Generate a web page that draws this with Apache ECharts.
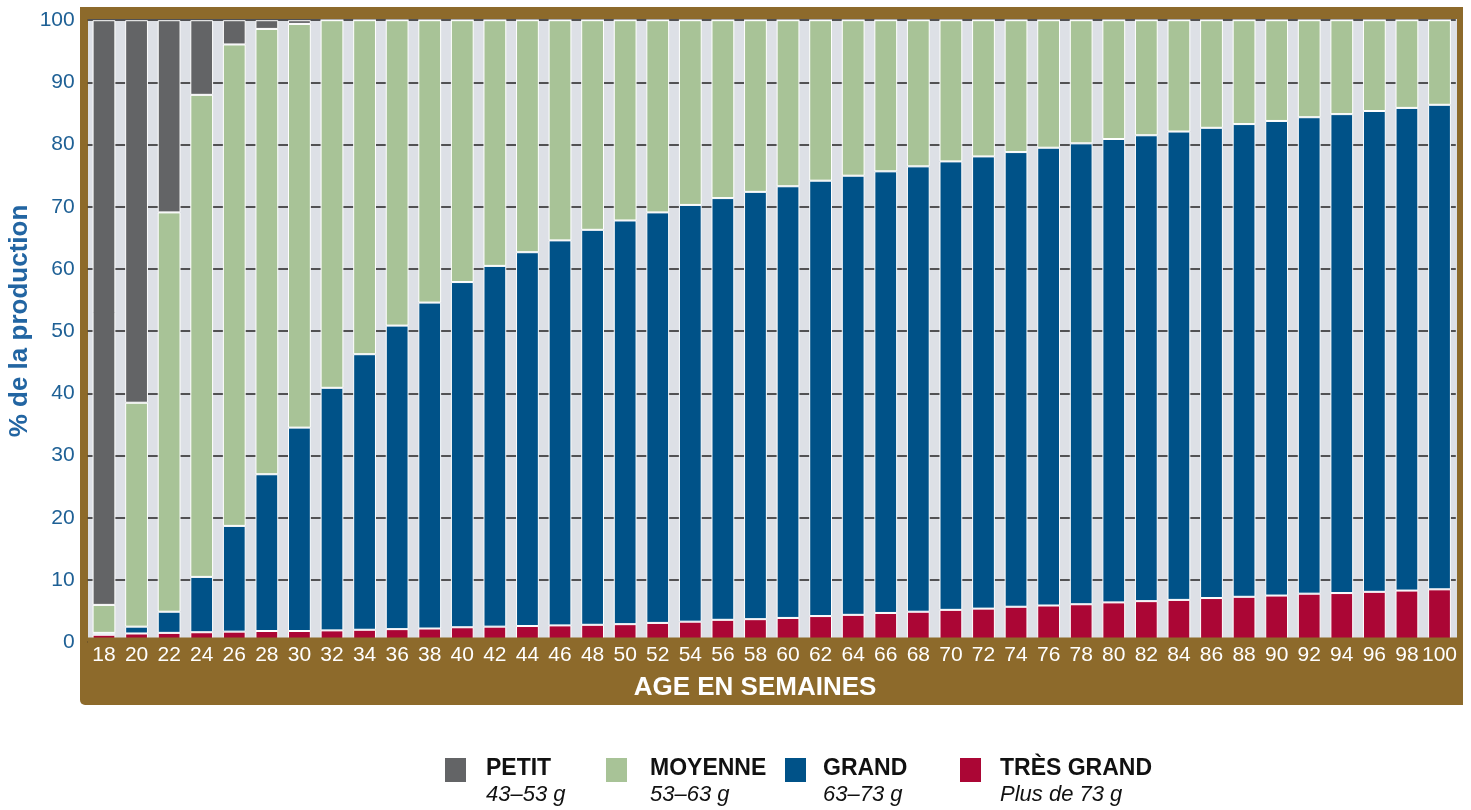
<!DOCTYPE html>
<html>
<head>
<meta charset="utf-8">
<script src="https://cdn.jsdelivr.net/npm/echarts@6/dist/echarts.min.js"></script>
<style>
html,body{margin:0;padding:0;background:#fff;}
#chart{width:1471px;height:810px;}
</style>
</head>
<body>
<div id="chart"></div>
<script>
// Age in weeks (categories)
const weeks = ['18','20','22','24','26','28','30','32','34','36','38','40','42','44','46','48','50','52','54','56','58','60','62','64','66','68','70','72','74','76','78','80','82','84','86','88','90','92','94','96','98','100'];

// % of production per egg size class (segment values, bottom to top: tresGrand, grand, moyenne, petit)
const tresGrand = [1.2,1.4,1.5,1.6,1.7,1.8,1.8,1.9,2.0,2.1,2.2,2.4,2.5,2.6,2.7,2.8,2.9,3.1,3.3,3.6,3.7,3.9,4.2,4.4,4.7,4.9,5.2,5.4,5.7,5.9,6.1,6.4,6.6,6.8,7.1,7.3,7.5,7.8,7.9,8.1,8.3,8.5];
const grand     = [0.3,1.1,3.4,8.9,17.0,25.2,32.7,39.0,44.3,48.8,52.4,55.5,58.0,60.1,61.9,63.5,64.9,66.0,67.0,67.8,68.7,69.4,70.0,70.6,71.0,71.6,72.1,72.7,73.1,73.6,74.1,74.5,74.9,75.3,75.6,76.0,76.3,76.6,77.0,77.3,77.6,77.9];
const moyenne   = [4.5,36.0,64.2,77.5,77.4,71.6,64.9,59.1,53.7,49.1,45.4,42.1,39.5,37.3,35.4,33.7,32.2,30.9,29.7,28.6,27.6,26.7,25.8,25.0,24.3,23.5,22.7,21.9,21.2,20.5,19.8,19.1,18.5,17.9,17.3,16.7,16.2,15.6,15.1,14.6,14.1,13.6];
const petit     = [94.0,61.5,30.9,12.0,3.9,1.4,0.6,0,0,0,0,0,0,0,0,0,0,0,0,0,0,0,0,0,0,0,0,0,0,0,0,0,0,0,0,0,0,0,0,0,0,0];

// Legend texts
const classNames = ['PETIT','MOYENNE','GRAND','TRÈS GRAND'];
const classRanges = ['43–53 g','53–63 g','63–73 g','Plus de 73 g'];

const yTitle = '% de la production';
const xTitle = 'AGE EN SEMAINES';

const COLORS = {petit:'#636466', moyenne:'#a8c397', grand:'#005288', tresGrand:'#ab0635'};
const BROWN = '#8d6a2b';
const NARROW = '"Liberation Sans Narrow","Arial Narrow",sans-serif';
const SANS = '"Liberation Sans",Arial,sans-serif';

const chart = echarts.init(document.getElementById('chart'), null, {renderer:'canvas'});

function mkSeries(name, data, color){
  return {
    name: name, type:'bar', stack:'total', data: data,
    barCategoryGap:'30%', z:2,
    itemStyle:{color:color, borderColor:'#ffffff', borderWidth:1},
    emphasis:{disabled:true}
  };
}

const legendLefts = [443, 604, 783, 958];
const legendGaps = [14, 17, 11, 13];
const legends = classNames.map((n,i)=>({
  data:[n], left:legendLefts[i], top:756, padding:0,
  orient:'horizontal', selectedMode:false,
  itemWidth:23, itemHeight:26, icon:'rect',
  formatter: function(name){ return '{b|'+name+'}\n{i|'+classRanges[classNames.indexOf(name)]+'}'; },
  textStyle:{
    padding:[24,0,0,legendGaps[i]],
    rich:{
      b:{fontFamily:SANS, fontWeight:'bold', fontSize:23, color:'#111', lineHeight:26},
      i:{fontFamily:SANS, fontStyle:'italic', fontSize:22, color:'#111', lineHeight:27}
    }
  }
}));

const option = {
  animation:false,
  backgroundColor:'#ffffff',
  grid:{left:87.7, right:15.2, top:20.2, bottom:167.8, containLabel:false},
  legend: legends,
  xAxis:{
    type:'category', data:weeks, z:10,
    axisLine:{show:false}, axisTick:{show:false},
    axisLabel:{color:'#ffffff', fontSize:21, fontFamily:NARROW, interval:0, margin:3}
  },
  yAxis:{
    type:'value', min:0, max:100, interval:10,
    axisLine:{show:false}, axisTick:{show:false},
    axisLabel:{color:'#1e6095', fontSize:21, fontFamily:NARROW, margin:13},
    splitLine:{show:true, lineStyle:{color:'#222222', width:1.5}}
  },
  graphic:[
    {type:'rect', z:-10, shape:{x:80, y:7, width:1383, height:698, r:[0,0,0,5]}, style:{fill:BROWN}},
    {type:'rect', z:-9, shape:{x:88, y:19, width:1369, height:619}, style:{fill:'#dde0e6'}},
    {type:'rect', z:5, shape:{x:88, y:637.5, width:1369, height:67}, style:{fill:BROWN}},
    {type:'text', z:11, x:755, y:688,
      style:{text:xTitle, fill:'#ffffff', font:'bold 26px '+SANS, textAlign:'center', textVerticalAlign:'middle'}},
    {type:'text', z:11, x:20, y:321, rotation:Math.PI/2,
      style:{text:yTitle, fill:'#2265a2', font:'bold 26px '+SANS, textAlign:'center', textVerticalAlign:'middle'}}
  ],
  series:[
    mkSeries('TRÈS GRAND', tresGrand, COLORS.tresGrand),
    mkSeries('GRAND', grand, COLORS.grand),
    mkSeries('MOYENNE', moyenne, COLORS.moyenne),
    mkSeries('PETIT', petit, COLORS.petit)
  ]
};
chart.setOption(option);
</script>
</body>
</html>
